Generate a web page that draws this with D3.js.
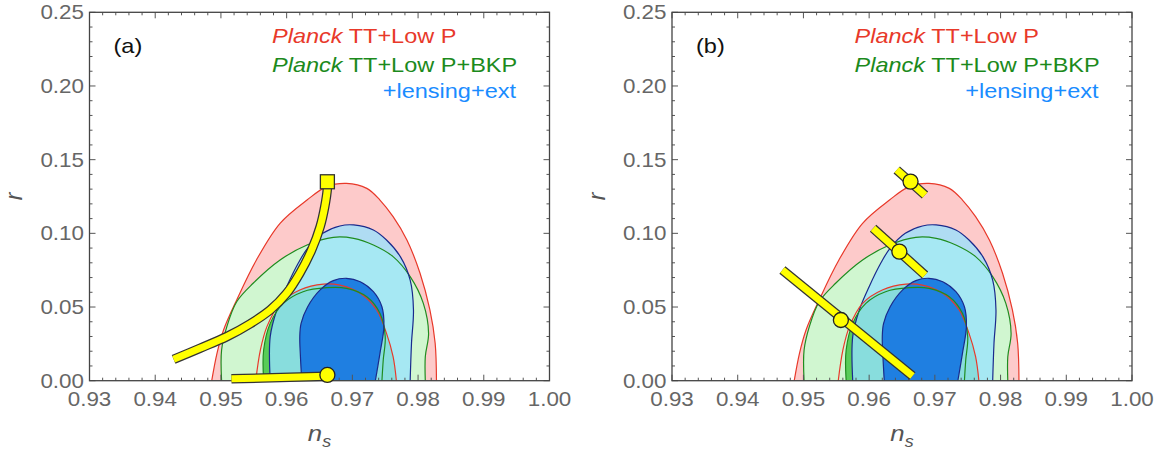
<!DOCTYPE html>
<html>
<head>
<meta charset="utf-8">
<script src="https://cdn.jsdelivr.net/npm/d3@7"></script>
<style>
  body { margin: 0; background: #fff; }
  text { font-family: "Liberation Sans", Arial, sans-serif; }
</style>
</head>
<body>
<svg id="chart" width="1168" height="450"></svg>
<script>
// contour data, [n_s, r]
const red95 = [[0.9486,0],[0.9494,0.0186],[0.9504,0.0344],[0.9524,0.0548],[0.9554,0.0819],[0.9590,0.1068],[0.9631,0.1226],[0.9661,0.1317],[0.9691,0.1339],[0.9722,0.1305],[0.9742,0.1226],[0.9762,0.1113],[0.9783,0.0955],[0.9803,0.0729],[0.9818,0.048],[0.9826,0.0254],[0.9828,0]];
const red68 = [[0.9553,0],[0.9560,0.0208],[0.9570,0.0367],[0.9590,0.0525],[0.9620,0.0616],[0.9656,0.0656],[0.9681,0.0649],[0.9712,0.0593],[0.9737,0.048],[0.9752,0.0321],[0.9762,0.0163],[0.9767,0]];
const green95 = [[0.9501,0],[0.9501,0.0208],[0.9509,0.0367],[0.9524,0.0536],[0.9549,0.0661],[0.9590,0.0819],[0.9631,0.0921],[0.9671,0.0973],[0.9702,0.0966],[0.9732,0.0921],[0.9762,0.0842],[0.9788,0.0706],[0.9808,0.0525],[0.9816,0.0321],[0.9811,0.0163],[0.9811,0]];
const green68 = [[0.9565,0],[0.9565,0.0208],[0.9575,0.0389],[0.9595,0.0525],[0.9625,0.0604],[0.9661,0.0631],[0.9691,0.0627],[0.9722,0.057],[0.9742,0.0457],[0.9750,0.0299],[0.9747,0.014],[0.9745,0]];
const blue95 = [[0.9575,0],[0.9575,0.0299],[0.9585,0.048],[0.9600,0.0638],[0.9618,0.0800],[0.9632,0.0900],[0.9655,0.1000],[0.9681,0.105],[0.9702,0.1057],[0.9732,0.1023],[0.9752,0.0955],[0.9773,0.0842],[0.9788,0.0683],[0.9793,0.048],[0.9790,0.0254],[0.9788,0]];
const blue68 = [[0.9623,0],[0.9621,0.0163],[0.9620,0.0299],[0.9622,0.0389],[0.9632,0.0502],[0.9651,0.0616],[0.9671,0.0679],[0.9691,0.0695],[0.9712,0.0672],[0.9732,0.0604],[0.9745,0.0502],[0.9748,0.0367],[0.9742,0.0186],[0.9735,0]];

// panel (a) model curves
const curveA = [[0.9428,0.0145],[0.9468,0.022],[0.9509,0.0299],[0.9544,0.0385],[0.9575,0.048],[0.9600,0.0593],[0.9620,0.0729],[0.9638,0.0887],[0.9651,0.1045],[0.9658,0.1181],[0.9662,0.1306],[0.9662,0.135]];
const squareA = [0.9662, 0.135];
const lowBandA = [[0.9516,0.0013],[0.9660,0.0030]];
const dotA = [0.9662, 0.0039];

// panel (b) segments: from, to, dot
const segFrom = [[0.9642,0.143],[0.9606,0.1034],[0.9468,0.0751]];
const segTo = [[0.9685,0.126],[0.9685,0.0717],[0.9666,0.0032]];
const segDot = [[0.9663,0.1351],[0.9646,0.0876],[0.9557,0.0412]];

const xTicks = [0.93,0.94,0.95,0.96,0.97,0.98,0.99,1.00];
const yTicks = [0.00,0.05,0.10,0.15,0.20,0.25];

const legendLines = [
  { it: "Planck", rest: " TT+Low P", color: "#e8392a" },
  { it: "Planck", rest: " TT+Low P+BKP", color: "#1c8a1c" },
  { it: "", rest: "+lensing+ext", color: "#1a8cff" }
];

const svg = d3.select("#chart");
const pw = 460, ph = 368.4, topM = 12.3;
const x = d3.scaleLinear().domain([0.93, 1.0]).range([0, pw]);
const y = d3.scaleLinear().domain([0, 0.25]).range([ph, 0]);
const sx = 1.12; // text is a bit wider than Arial

const shape = d3.line().x(d => x(d[0])).y(d => y(d[1])).curve(d3.curveCatmullRom.alpha(0.5));
const closed = d => shape(d) + "Z";

function txt(g, tx, ty, anchor) {
  return g.append("text")
    .attr("transform", `translate(${tx},${ty}) scale(${sx},1)`)
    .attr("text-anchor", anchor);
}

function drawPanel(left, id, label) {
  const g = svg.append("g").attr("transform", `translate(${left},${topM})`);
  const defs = g.append("defs");
  defs.append("clipPath").attr("id", "plot" + id)
    .append("rect").attr("width", pw).attr("height", ph);
  defs.append("clipPath").attr("id", "b95" + id)
    .append("path").attr("d", closed(blue95));

  const c = g.append("g").attr("clip-path", `url(#plot${id})`);
  c.append("path").attr("d", closed(red95)).attr("fill", "#fdcaca");
  c.append("path").attr("d", closed(green95)).attr("fill", "#d0f6d0");
  c.append("path").attr("d", closed(blue95)).attr("fill", "#afdcf3");
  const inB = c.append("g").attr("clip-path", `url(#b95${id})`);
  inB.append("path").attr("d", closed(green95)).attr("fill", "#a6e8f3");
  c.append("path").attr("d", closed(green68)).attr("fill", "#58cc58");
  const inB2 = c.append("g").attr("clip-path", `url(#b95${id})`);
  inB2.append("path").attr("d", closed(red68)).attr("fill", "#88dddd");
  inB2.append("path").attr("d", closed(green68)).attr("fill", "#88dddd");
  c.append("path").attr("d", closed(blue68)).attr("fill", "#1f7fe1");

  [[red95, "#e8392a"], [green95, "#1f8c1f"], [blue95, "#1a2a8c"],
   [red68, "#e8392a"], [green68, "#1f8c1f"], [blue68, "#1a2a8c"]].forEach(([d, col]) => {
    c.append("path").attr("d", shape(d)).attr("fill", "none")
      .attr("stroke", col).attr("stroke-width", 1.2);
  });

  // ticks on all four sides, inward
  d3.range(0.93, 1.0001, 0.002).forEach(v => {
    const major = Math.abs(v * 100 - Math.round(v * 100)) < 1e-6;
    const len = major ? 6 : 3;
    g.append("line").attr("x1", x(v)).attr("x2", x(v)).attr("y1", ph).attr("y2", ph - len).attr("stroke", "#555");
    g.append("line").attr("x1", x(v)).attr("x2", x(v)).attr("y1", 0).attr("y2", len).attr("stroke", "#555");
  });
  d3.range(0, 0.2501, 0.01).forEach(v => {
    const major = Math.abs(v * 20 - Math.round(v * 20)) < 1e-6;
    const len = major ? 6 : 3;
    g.append("line").attr("y1", y(v)).attr("y2", y(v)).attr("x1", 0).attr("x2", len).attr("stroke", "#555");
    g.append("line").attr("y1", y(v)).attr("y2", y(v)).attr("x1", pw).attr("x2", pw - len).attr("stroke", "#555");
  });
  g.append("rect").attr("width", pw).attr("height", ph)
    .attr("fill", "none").attr("stroke", "#444").attr("stroke-width", 1.3);

  xTicks.forEach(v => {
    txt(g, x(v), ph + 25.5, "middle").attr("font-size", 20).attr("fill", "#666").text(v.toFixed(2));
  });
  yTicks.forEach(v => {
    txt(g, -5.5, y(v) + 7, "end").attr("font-size", 20).attr("fill", "#666").text(v.toFixed(2));
  });

  const xt = txt(g, x(0.965), 428.7, "middle").attr("font-size", 23).attr("fill", "#555");
  xt.append("tspan").attr("font-style", "italic").text("n");
  xt.append("tspan").attr("font-style", "italic").attr("font-size", 16).attr("dy", 6).text("s");
  g.append("text").attr("transform", `translate(-67.5,${ph / 2}) rotate(-90)`)
    .attr("text-anchor", "middle").attr("font-size", 23).attr("font-style", "italic")
    .attr("fill", "#555").text("r");

  txt(g, 24, 40.5, "start").attr("font-size", 21).attr("fill", "#111").text(label);

  legendLines.forEach((l, i) => {
    const t = i < 2 ? txt(g, 182.5, 31 + i * 28.5, "start") : txt(g, 426.5, 86, "end");
    t.attr("font-size", 21).attr("fill", l.color);
    if (l.it) t.append("tspan").attr("font-style", "italic").text(l.it);
    t.append("tspan").text(l.rest);
  });
  return g;
}

function band(g, pts, curve) {
  const ln = d3.line().x(d => x(d[0])).y(d => y(d[1])).curve(curve || d3.curveLinear);
  g.append("path").attr("d", ln(pts)).attr("fill", "none").attr("stroke", "#333").attr("stroke-width", 9.5);
  g.append("path").attr("d", ln(pts)).attr("fill", "none").attr("stroke", "#ffff00").attr("stroke-width", 7);
}
function dot(g, p) {
  g.append("circle").attr("cx", x(p[0])).attr("cy", y(p[1])).attr("r", 7.5)
    .attr("fill", "#ffff00").attr("stroke", "#222").attr("stroke-width", 1.3);
}

// panel (a)
const ga = drawPanel(89.5, "a", "(a)");
band(ga, curveA, d3.curveCatmullRom.alpha(0.5));
ga.append("rect").attr("x", x(squareA[0]) - 7).attr("y", y(squareA[1]) - 7)
  .attr("width", 14).attr("height", 14)
  .attr("fill", "#ffff00").attr("stroke", "#333").attr("stroke-width", 1.3);
band(ga, lowBandA);
dot(ga, dotA);

// panel (b)
const gb = drawPanel(672, "b", "(b)");
segFrom.forEach((f, i) => {
  band(gb, [f, segTo[i]]);
  dot(gb, segDot[i]);
});
</script>
</body>
</html>
